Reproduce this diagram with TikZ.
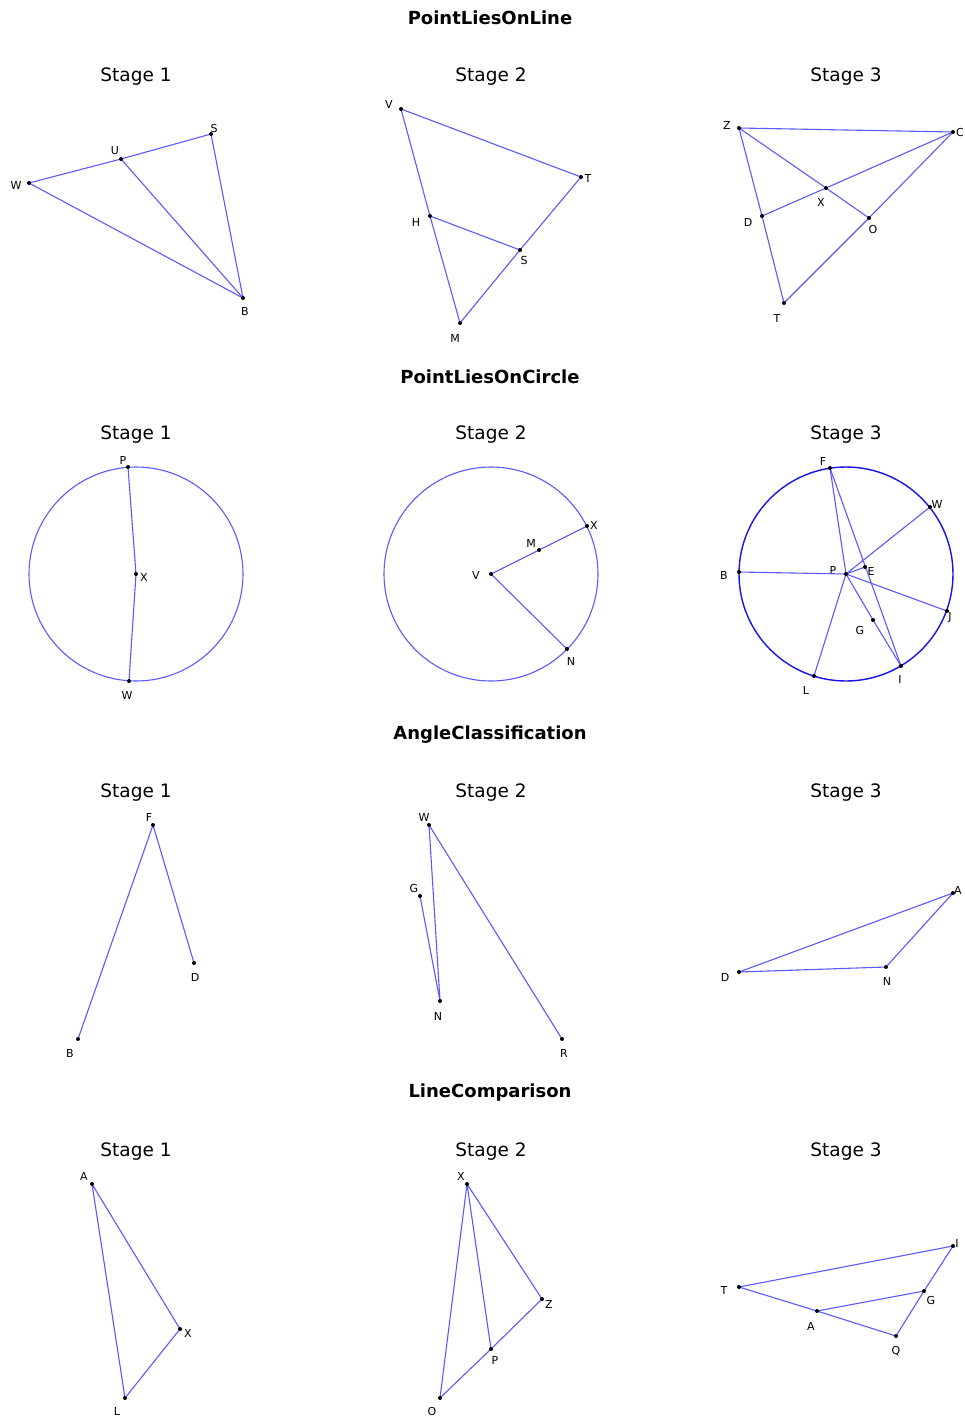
\documentclass[tikz,border=0pt]{standalone}
\usepackage{fontspec}
\setmainfont{DejaVu Sans}
\definecolor{lineblue}{RGB}{90,90,255}
\definecolor{circblue}{RGB}{20,20,235}
\newcommand{\gpt}[5]{\coordinate (#1) at (#2); \node[lbl] (#1l) at (#4) {#3};}
\begin{document}
\begin{tikzpicture}[x=1pt,y=-1pt,
  lbl/.style={inner sep=0pt, font=\fontsize{11}{13}\selectfont},
  maintitle/.style={inner sep=0pt, font=\fontsize{18}{21}\selectfont\bfseries},
  stagetitle/.style={inner sep=0pt, font=\fontsize{18.5}{21}\selectfont},
  seg/.style={draw=lineblue, line width=1.1pt},
  circ/.style={draw=lineblue, line width=1.1pt},
  dotfill/.style={fill=black}]
\fill[white] (0,0) rectangle (964,1427);
\useasboundingbox (0,0) rectangle (964,1427);

% ---------- titles ----------
\node[maintitle] (t1) at (490,18) {PointLiesOnLine};
\node[maintitle] (t2) at (490,377) {PointLiesOnCircle};
\node[maintitle] (t3) at (490,735) {AngleClassification};
\node[maintitle] (t4) at (490,1093) {LineComparison};
\foreach \r/\y in {1/77,2/435,3/793,4/1152}{
  \node[stagetitle] (s\r a) at (136,\y) {Stage 1};
  \node[stagetitle] (s\r b) at (491,\y) {Stage 2};
  \node[stagetitle] (s\r c) at (846,\y) {Stage 3};
}

% ---------- PointLiesOnLine stage 1 ----------
\gpt{aW}{29,183}{W}{16,185}{}
\gpt{aU}{121,159}{U}{115,151}{}
\gpt{aS}{211,134}{S}{214,128}{}
\gpt{aB}{243,298}{B}{245,311}{}
\draw[seg] (aW) -- (aU) -- (aS);
\draw[seg] (aW) -- (aB);
\draw[seg] (aU) -- (aB);
\draw[seg] (aS) -- (aB);

% ---------- PointLiesOnLine stage 2 ----------
\gpt{bV}{401,109}{V}{389,104}{}
\gpt{bT}{581,177}{T}{588,178}{}
\gpt{bH}{430,216}{H}{416,222}{}
\gpt{bS}{520,250}{S}{524,260}{}
\gpt{bM}{460,323}{M}{455,338}{}
\draw[seg] (bV) -- (bT);
\draw[seg] (bV) -- (bH) -- (bM);
\draw[seg] (bH) -- (bS);
\draw[seg] (bM) -- (bS) -- (bT);

% ---------- PointLiesOnLine stage 3 ----------
\gpt{cZ}{739,128}{Z}{727,125}{}
\gpt{cC}{953,132}{C}{960,132}{}
\gpt{cX}{826,188}{X}{821,202}{}
\gpt{cD}{762,216}{D}{748,222}{}
\gpt{cO}{869,218}{O}{873,229}{}
\gpt{cT}{784,303}{T}{777,318}{}
\draw[seg] (cZ) -- (cC);
\draw[seg] (cZ) -- (cX) -- (cO);
\draw[seg] (cD) -- (cX) -- (cC);
\draw[seg] (cZ) -- (cD) -- (cT);
\draw[seg] (cT) -- (cO) -- (cC);

% ---------- PointLiesOnCircle stage 1 ----------
\gpt{dX}{136,574}{X}{144,577}{}
\gpt{dP}{128,467}{P}{123,460}{}
\gpt{dW}{129,681}{W}{127,695}{}
\draw[circ] (dX) circle[radius=107];
\draw[seg] (dP) -- (dX) -- (dW);

% ---------- PointLiesOnCircle stage 2 ----------
\gpt{eV}{491,574}{V}{476,575}{}
\gpt{eM}{539,550}{M}{531,543}{}
\gpt{eX}{587,526}{X}{594,525}{}
\gpt{eN}{567,649}{N}{571,661}{}
\draw[circ] (eV) circle[radius=107];
\draw[seg] (eV) -- (eM) -- (eX);
\draw[seg] (eV) -- (eN);

% ---------- PointLiesOnCircle stage 3 ----------
\gpt{fP}{846,574}{P}{833,570}{}
\gpt{fF}{830,468}{F}{823,461}{}
\gpt{fW}{930,507}{W}{937,504}{}
\gpt{fE}{865,567}{E}{871,571}{}
\gpt{fB}{739,572}{B}{724,575}{}
\gpt{fJ}{947,611}{J}{950,618}{}
\gpt{fG}{873,620}{G}{860,630}{}
\gpt{fI}{901,666}{I}{900,679}{}
\gpt{fL}{814,676}{L}{806,690}{}
\draw[draw=circblue, line width=1.4pt] (fP) circle[radius=107];
\draw[seg] (fF) -- (fP);
\draw[seg] (fF) -- (fI);
\draw[seg] (fP) -- (fW);
\draw[seg] (fP) -- (fE);
\draw[seg] (fB) -- (fP);
\draw[seg] (fP) -- (fJ);
\draw[seg] (fP) -- (fG) -- (fI);
\draw[seg] (fP) -- (fL);

% ---------- AngleClassification stage 1 ----------
\gpt{gF}{153,825}{F}{149,817}{}
\gpt{gD}{194,963}{D}{195,977}{}
\gpt{gB}{78,1039}{B}{70,1053}{}
\draw[seg] (gB) -- (gF) -- (gD);

% ---------- AngleClassification stage 2 ----------
\gpt{hW}{429,825}{W}{424,817}{}
\gpt{hG}{420,896}{G}{414,888}{}
\gpt{hN}{440,1001}{N}{438,1016}{}
\gpt{hR}{562,1039}{R}{564,1053}{}
\draw[seg] (hW) -- (hN);
\draw[seg] (hG) -- (hN);
\draw[seg] (hW) -- (hR);

% ---------- AngleClassification stage 3 ----------
\gpt{iA}{953,893}{A}{958,890}{}
\gpt{iN}{886,967}{N}{887,981}{}
\gpt{iD}{739,972}{D}{725,977}{}
\draw[seg] (iD) -- (iA) -- (iN) -- (iD);

% ---------- LineComparison stage 1 ----------
\gpt{jA}{92,1184}{A}{84,1176}{}
\gpt{jX}{180,1329}{X}{188,1333}{}
\gpt{jL}{125,1398}{L}{117,1411}{}
\draw[seg] (jA) -- (jX) -- (jL) -- (jA);

% ---------- LineComparison stage 2 ----------
\gpt{kX}{467,1184}{X}{461,1176}{}
\gpt{kZ}{542,1299}{Z}{549,1304}{}
\gpt{kP}{491,1349}{P}{495,1360}{}
\gpt{kO}{440,1398}{O}{432,1411}{}
\draw[seg] (kX) -- (kO);
\draw[seg] (kX) -- (kP);
\draw[seg] (kX) -- (kZ);
\draw[seg] (kO) -- (kP) -- (kZ);

% ---------- LineComparison stage 3 ----------
\gpt{lT}{739,1287}{T}{724,1290}{}
\gpt{lI}{953,1246}{I}{957,1243}{}
\gpt{lG}{924,1291}{G}{931,1300}{}
\gpt{lA}{817,1311}{A}{811,1326}{}
\gpt{lQ}{896,1336}{Q}{896,1351}{}
\draw[seg] (lT) -- (lI);
\draw[seg] (lT) -- (lA) -- (lQ);
\draw[seg] (lA) -- (lG);
\draw[seg] (lQ) -- (lG) -- (lI);

% ---------- dots ----------
\foreach \p in {aW,aU,aS,aB,bV,bT,bH,bS,bM,cZ,cC,cX,cD,cO,cT,
  dX,dP,dW,eV,eM,eX,eN,fP,fF,fW,fE,fB,fJ,fG,fI,fL,
  gF,gD,gB,hW,hG,hN,hR,iA,iN,iD,jA,jX,jL,kX,kZ,kP,kO,lT,lI,lG,lA,lQ}
  \fill[dotfill] (\p) circle[radius=2];
\end{tikzpicture}
\end{document}
